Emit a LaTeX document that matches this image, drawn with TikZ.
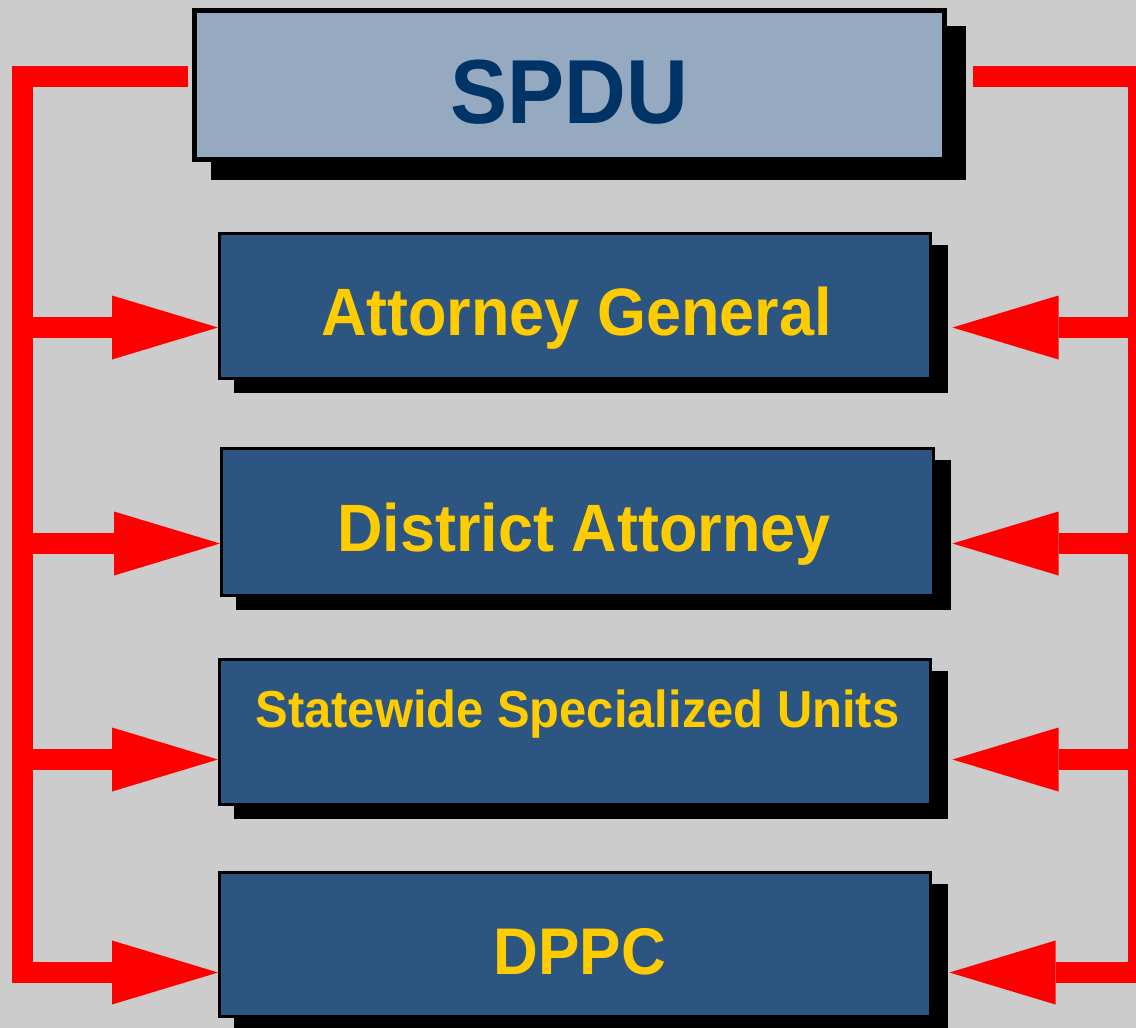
\documentclass[tikz,border=0pt]{standalone}
\usepackage{fontspec}
\setmainfont{Liberation Sans}[FakeStretch=0.94]
\usetikzlibrary{arrows.meta,shadows}

\definecolor{bggray}{HTML}{CCCCCC}
\definecolor{spdufill}{HTML}{95A9C1}
\definecolor{spdutext}{HTML}{003366}
\definecolor{unitfill}{HTML}{2C5581}
\definecolor{unittext}{HTML}{FFCC00}
\definecolor{linkred}{HTML}{FF0000}

\begin{document}
\begin{tikzpicture}[x=1pt,y=-1pt,
  spdubox/.style={draw=black, line width=5pt, fill=spdufill, inner sep=0pt,
    minimum width=750pt, minimum height=149pt,
    drop shadow={shadow xshift=19pt, shadow yshift=-18pt, opacity=1,
      fill=black, draw=black, line width=5pt}},
  unitbox/.style={draw=black, line width=3pt, fill=unitfill, inner sep=0pt,
    minimum width=711pt, minimum height=145pt,
    drop shadow={shadow xshift=16pt, shadow yshift=-13pt, opacity=1,
      fill=black, draw=black, line width=3pt}},
  spdulabel/.style={anchor=base, inner sep=0pt, text=spdutext,
    font=\bfseries\fontsize{91}{100}\selectfont},
  unitlabel/.style={anchor=base, inner sep=0pt, text=unittext,
    font=\bfseries\fontsize{67}{80}\selectfont},
  link/.style={draw=linkred, line width=21pt},
  linkarrow/.style={link, -{Triangle[length=106pt, width=64pt, line width=0pt]}}]

\fill[bggray] (0,0) rectangle (1136,1028);
\useasboundingbox (0,0) rectangle (1136,1028);

% boxes
\node[spdubox] (spdu) at (569.5,85) {};
\node[unitbox] (ag) at (575,306) {};
\node[unitbox, minimum width=712pt, minimum height=147pt] (da) at (577.5,522) {};
\node[unitbox] (ssu) at (575,732) {};
\node[unitbox, minimum height=144pt] (dppc) at (575,944.5) {};

\node[spdulabel] (spdut) at (569,123) {SPDU};
\node[unitlabel] (agt) at (576.5,335) {Attorney General};
\node[unitlabel] (dat) at (584,551) {District Attorney};
\node[unitlabel, font=\bfseries\fontsize{52}{60}\selectfont] (ssut) at (577.5,727) {Statewide Specialized Units};
\node[unitlabel, font=\bfseries\fontsize{66}{80}\selectfont] (dppct) at (580,974) {DPPC};

% red links
\coordinate (ls) at (188,76);
\coordinate (lt) at (22.5,76);
\coordinate (l1) at (22.5,327.5);
\coordinate (l2) at (22.5,543.5);
\coordinate (l3) at (22.5,759.5);
\coordinate (l4) at (22.5,972.5);
\coordinate (rs) at (973,76);
\coordinate (rt) at (1138.5,76);
\coordinate (r1) at (1138.5,327.5);
\coordinate (r2) at (1138.5,543.5);
\coordinate (r3) at (1138.5,759.5);
\coordinate (r4) at (1138.5,972.5);

\draw[linkarrow] (ls) -- (lt) -- (l4) -- (l4 -| dppc.west);
\draw[linkarrow] (l1) -- (l1 -| ag.west);
\draw[linkarrow] (l2) -- (l2 -| da.west);
\draw[linkarrow] (l3) -- (l3 -| ssu.west);

\draw[linkarrow, shorten >=17.5pt] (rs) -- (rt) -- (r4) -- (r4 -| dppc.east);
\draw[linkarrow, shorten >=20.5pt] (r1) -- (r1 -| ag.east);
\draw[linkarrow, shorten >=17.5pt] (r2) -- (r2 -| da.east);
\draw[linkarrow, shorten >=20.5pt] (r3) -- (r3 -| ssu.east);

\end{tikzpicture}
\end{document}
